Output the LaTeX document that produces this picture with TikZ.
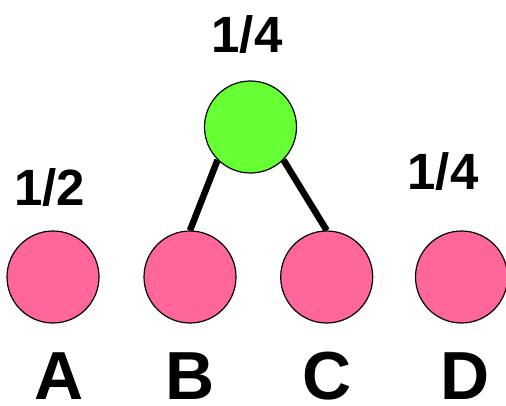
\documentclass[tikz,border=0pt]{standalone}
\usepackage{fontspec}
\setmainfont{Liberation Sans}
\usetikzlibrary{backgrounds}
\begin{document}
\begin{tikzpicture}[x=1pt,y=1pt,
  leaf/.style={circle,draw=black,line width=1.2pt,fill=pinkfill,minimum size=92pt,inner sep=0pt},
  root/.style={circle,draw=black,line width=1.2pt,fill=greenfill,minimum size=92pt,inner sep=0pt},
  edge/.style={line width=6.5pt},
  frac/.style={font=\bfseries\fontsize{51}{51}\selectfont,anchor=base,inner sep=0pt},
  letter/.style={font=\bfseries\fontsize{68}{68}\selectfont,anchor=base,inner sep=0pt}]
\definecolor{pinkfill}{HTML}{FF6699}
\definecolor{greenfill}{HTML}{66FF33}
\useasboundingbox (0,0) rectangle (506,405);
% circles
\node[root] (g) at (250.5,278) {};
\node[leaf] (a) at (53,128) {};
\node[leaf] (b) at (190,128) {};
\node[leaf] (c) at (326.7,128) {};
\node[leaf] (d) at (461.5,128) {};
% edges behind the circles
\begin{scope}[on background layer]
\draw[edge] (g.225) -- (b.north);
\draw[edge] (g.315) -- (c.north);
\end{scope}
% weights
\node[frac] (wg) at (247,352) {1/4};
\node[frac] (wa) at (49.5,200) {1/2};
\node[frac] (wd) at (443,215) {1/4};
% names
\node[letter] (la) at (59.5,6) {A};
\node[letter] (lb) at (190.5,6) {B};
\node[letter] (lc) at (327,6) {C};
\node[letter] (ld) at (465,6) {D};
\end{tikzpicture}
\end{document}
